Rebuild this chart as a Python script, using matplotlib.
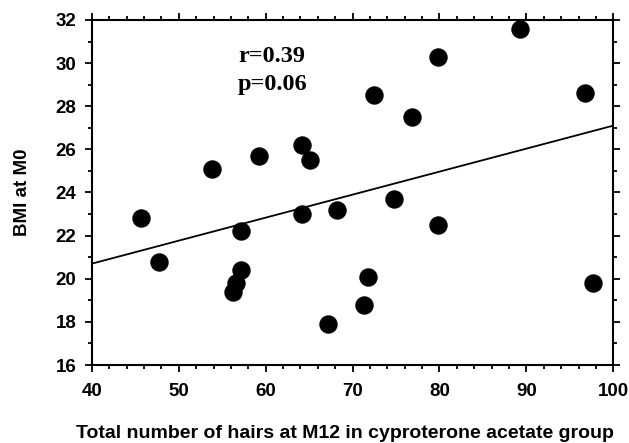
import numpy as np
import matplotlib
matplotlib.use("Agg")
import matplotlib.pyplot as plt
from matplotlib.ticker import MultipleLocator

# hairs at M12 vs BMI at M0
hairs = [45.6, 47.7, 53.8, 56.2, 56.6, 57.2, 57.2, 59.2, 64.2, 64.2, 65.1, 67.2,
         68.2, 71.3, 71.8, 72.5, 74.8, 76.8, 79.8, 79.8, 89.3, 96.7, 97.7]
bmi = [22.8, 20.8, 25.1, 19.4, 19.8, 20.4, 22.2, 25.7, 26.2, 23.0, 25.5, 17.9,
       23.2, 18.8, 20.1, 28.5, 23.7, 27.5, 30.3, 22.5, 31.6, 28.6, 19.8]
fit_x = [40, 100]
fit_y = [20.7, 27.1]
stats_txt = ["r=0.39", "p=0.06"]

fig = plt.figure(figsize=(6.29, 4.43), dpi=100)
ax = fig.add_axes([0.146, 0.176, 0.829, 0.779])

ax.plot(fit_x, fit_y, color="black", lw=1.3, zorder=2)
ax.scatter(hairs, bmi, s=150, color="black", zorder=3)

ax.set_xlim(40, 100)
ax.set_ylim(16, 32)
ax.xaxis.set_major_locator(MultipleLocator(10))
ax.xaxis.set_minor_locator(MultipleLocator(2))
ax.yaxis.set_major_locator(MultipleLocator(2))
ax.yaxis.set_minor_locator(MultipleLocator(1))
ax.tick_params(which="both", direction="out", top=True, right=True, width=1.3)
ax.tick_params(which="major", length=5)
ax.tick_params(which="minor", length=3)
for s in ax.spines.values():
    s.set_linewidth(1.5)

for lab in ax.get_xticklabels() + ax.get_yticklabels():
    lab.set_family("Liberation Sans")
    lab.set_fontweight("bold")
    lab.set_fontsize(13.5)
ax.tick_params(axis="x", pad=8)
ax.tick_params(axis="y", pad=6)

fig.text(0.548, 0.011, "Total number of hairs at M12 in cyproterone acetate group",
         family="Liberation Sans", fontweight="bold", fontsize=14,
         ha="center", va="baseline")
ax.set_ylabel("BMI at M0", family="Liberation Sans", fontweight="bold",
              fontsize=13.5, labelpad=18)

ax.text(0.28, 0.878, stats_txt[0], transform=ax.transAxes, family="Liberation Serif",
        fontweight="bold", fontsize=17.5, va="baseline")
ax.text(0.28, 0.797, stats_txt[1], transform=ax.transAxes, family="Liberation Serif",
        fontweight="bold", fontsize=17.5, va="baseline")

fig.savefig("out.png", dpi=100)
